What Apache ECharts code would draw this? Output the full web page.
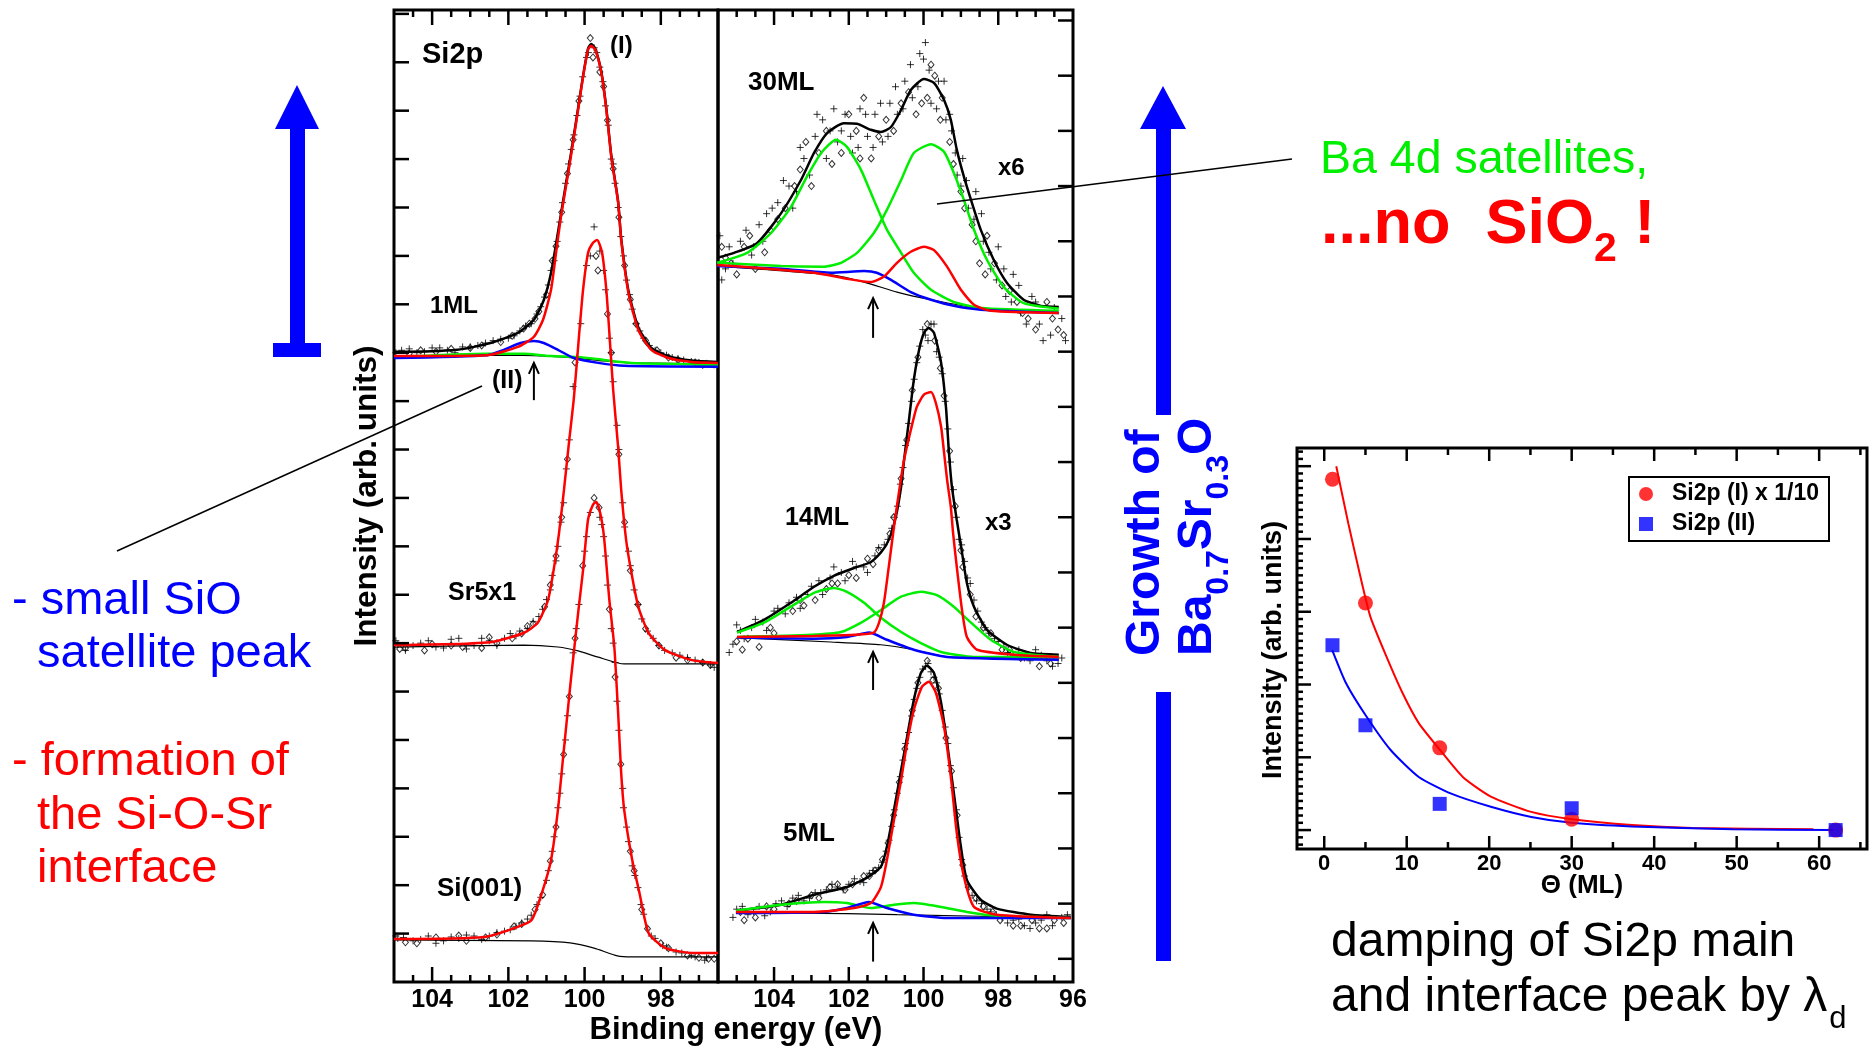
<!DOCTYPE html>
<html>
<head>
<meta charset="utf-8">
<script src="https://cdn.jsdelivr.net/npm/echarts@6/dist/echarts.min.js"></script>
<style>
html,body{margin:0;padding:0;background:#fff;}
#chart{width:1874px;height:1051px;}
</style>
</head>
<body>
<div id="chart"></div>
<script>
// ---------- tick labels ----------
const leftEnergyTicks = [98, 100, 102, 104];
const rightEnergyTicks = [96, 98, 100, 102, 104];
const coverageTicks = [0, 10, 20, 30, 40, 50, 60];
const coverageMinorTicks = [5, 15, 25, 35, 45, 55, 65];

// ---------- left panel: Si(001), Sr5x1, 1ML (binding energy eV, intensity arb.) ----------
const si001Fit = [[105.0,0.89],[104.87,0.89],[102.63,0.93],[101.75,1.14],[101.39,1.28],[101.12,1.84],[100.88,2.52],[100.70,3.55],[100.57,4.59],[100.36,6.24],[100.17,7.62],[100.04,8.51],[99.91,9.55],[99.78,9.86],[99.70,9.92],[99.59,9.69],[99.49,9.19],[99.35,7.89],[99.22,6.92],[99.12,5.56],[99.04,4.32],[98.96,3.55],[98.75,2.52],[98.56,1.84],[98.32,1.01],[97.88,0.70],[97.14,0.60],[96.5,0.60]];
const si001Bg = [[105.0,0.87],[101.39,0.85],[100.38,0.81],[99.75,0.70],[99.14,0.54],[98.75,0.52],[96.5,0.52]];
const si001Plus = [[104.9,0.9],[104.5,0.85],[104.1,0.95],[103.7,0.85],[103.3,0.9],[102.9,0.95],[102.5,0.95],[102.1,1.05],[101.8,1.15],[101.5,1.3],[101.25,1.6],[101.0,2.1],[100.85,2.7],[100.7,3.6],[100.6,4.3],[100.45,5.5],[100.3,6.8],[100.15,7.8],[100.0,8.9],[99.85,9.7],[99.6,9.6],[99.5,9.2],[99.4,8.2],[99.3,7.3],[99.2,6.6],[99.1,5.2],[99.0,4.0],[98.9,3.2],[98.75,2.4],[98.6,1.95],[98.45,1.4],[98.25,0.95],[97.95,0.75],[97.6,0.62],[97.2,0.55],[96.8,0.5],
  [104.95,0.95],[104.75,0.92],[104.3,0.88],[103.9,0.8],[103.5,0.93],[103.1,0.97],[102.7,0.88],[102.3,1.02],[101.95,1.08],[101.65,1.22],[101.4,1.38],[101.15,1.75],[100.95,2.3],[100.8,3.0],[100.65,3.9],[100.5,5.0],[100.22,7.3],[99.95,9.2],[99.55,9.45],[99.45,8.8],[99.25,7.0],[99.15,5.8],[98.98,3.6],[98.85,2.9],[98.68,2.2],[98.52,1.6],[98.15,0.9],[97.85,0.72],[97.45,0.6],[97.1,0.52],[96.85,0.45]];
const si001Diamond = [[104.7,0.82],[103.9,0.92],[103.1,0.85],[102.3,0.98],[101.65,1.2],[101.1,1.8],[100.75,3.2],[100.4,5.9],[100.05,8.6],[99.75,10.0],[99.35,7.7],[99.05,4.5],[98.7,2.3],[98.35,1.1],[97.8,0.7],[97.0,0.5],[96.6,0.48],
  [104.4,0.8],[103.3,0.96],[102.6,0.92],[101.85,1.15],[101.3,1.5],[100.9,2.5],[100.55,4.7],[100.25,7.1],[99.62,9.8],[99.2,6.3],[98.8,2.7],[98.5,1.5],[98.0,0.8],[97.3,0.55],[96.75,0.48]];

const sr5x1Fit = [[105.0,6.96],[104.92,6.96],[102.47,7.02],[101.60,7.21],[101.23,7.42],[100.96,7.89],[100.80,8.57],[100.67,9.28],[100.54,10.17],[100.41,11.14],[100.28,12.07],[100.14,13.41],[100.04,14.30],[99.91,15.06],[99.78,15.27],[99.67,15.33],[99.54,15.06],[99.43,14.30],[99.35,13.41],[99.25,12.23],[99.12,11.05],[99.04,10.17],[98.91,9.13],[98.77,8.45],[98.59,7.75],[98.32,7.21],[97.90,6.86],[97.19,6.65],[96.5,6.59]];
const sr5x1Bg = [[105.0,6.92],[101.6,6.96],[100.7,6.92],[100.17,6.84],[99.64,6.71],[98.96,6.57],[96.5,6.57]];
const sr5x1Plus = [[104.9,6.98],[104.5,6.95],[104.1,7.05],[103.7,6.9],[103.3,7.1],[102.9,6.95],[102.5,7.05],[102.1,7.1],[101.8,7.15],[101.5,7.3],[101.2,7.55],[101.0,7.9],[100.85,8.4],[100.7,9.0],[100.55,9.9],[100.4,11.2],[100.3,12.3],[100.1,13.6],[99.95,14.8],[99.75,15.6],[99.6,15.1],[99.45,14.3],[99.35,13.3],[99.25,12.4],[99.1,11.0],[99.0,9.9],[98.85,8.9],[98.7,8.1],[98.5,7.5],[98.2,7.1],[97.9,6.85],[97.5,6.75],[97.1,6.65],[96.7,6.55],
  [104.95,7.05],[104.7,6.85],[104.3,7.0],[103.9,6.92],[103.5,7.08],[103.1,6.88],[102.7,7.1],[102.3,6.95],[101.95,7.2],[101.7,7.25],[101.35,7.45],[101.1,7.7],[100.9,8.1],[100.75,8.7],[100.62,9.5],[100.48,10.6],[100.2,12.9],[99.85,15.0],[99.5,14.7],[99.3,13.0],[99.15,11.5],[98.95,9.4],[98.8,8.6],[98.6,7.8],[98.35,7.25],[98.05,6.95],[97.7,6.8],[97.3,6.7],[96.9,6.6],[96.6,6.5]];
const sr5x1Diamond = [[104.7,6.9],[104.2,6.85],[103.5,6.95],[102.7,6.9],[102.3,7.0],[101.65,7.2],[101.35,7.4],[100.9,8.2],[100.6,9.6],[100.25,12.8],[99.7,15.0],[99.65,14.7],[99.3,13.0],[98.95,9.5],[98.6,7.8],[98.05,6.95],[97.3,6.65],[96.9,6.6],
  [104.85,6.88],[104.0,6.98],[103.2,6.92],[102.5,7.12],[101.9,7.1],[101.5,7.35],[101.05,7.75],[100.75,8.8],[100.45,10.8],[99.4,13.8],[99.1,10.9],[98.8,8.5],[98.4,7.3],[97.6,6.7],[96.7,6.55]];

const ml1Total = [[105.0,13.02],[104.92,13.02],[103.34,13.06],[102.47,13.20],[101.75,13.41],[101.33,13.68],[101.07,14.09],[100.88,14.65],[100.70,15.48],[100.55,16.2],[100.36,17.1],[100.17,18.05],[100.04,18.72],[99.91,19.28],[99.83,19.38],[99.72,19.28],[99.56,18.8],[99.43,18.05],[99.30,17.08],[99.12,16.12],[99.04,15.36],[98.85,14.28],[98.59,13.52],[98.25,13.1],[97.80,12.93],[97.19,12.84],[96.5,12.81]];
const ml1Main = [[105.0,12.93],[104.92,12.93],[102.55,12.95],[101.75,13.12],[101.33,13.33],[101.09,13.68],[100.88,14.30],[100.75,15.06],[100.62,15.81],[100.49,16.43],[100.36,17.05],[100.17,18.02],[100.04,18.70],[99.91,19.26],[99.83,19.34],[99.72,19.26],[99.56,18.78],[99.43,18.02],[99.30,17.05],[99.12,16.10],[99.04,15.33],[98.85,14.24],[98.59,13.47],[98.25,13.06],[97.80,12.89],[97.19,12.81],[96.5,12.79]];
const ml1Oxide = [[105.0,12.89],[102.55,12.95],[102.12,13.06],[101.68,13.20],[101.33,13.24],[101.07,13.20],[100.70,13.06],[100.28,12.89],[99.64,12.79],[98.96,12.73],[96.5,12.71]];
const ml1Sat = [[105.0,12.91],[102.55,12.98],[101.60,12.98],[100.88,12.93],[100.17,12.91],[99.49,12.85],[98.77,12.79],[96.5,12.75]];
const ml1Bg = [[105.0,12.93],[102.2,12.95],[101.0,12.93],[100.2,12.89],[99.5,12.83],[98.8,12.79],[96.5,12.77]];
const ml1Plus = [[104.8,13.05],[104.4,13.0],[104.0,13.1],[103.6,13.05],[103.2,13.12],[102.8,13.15],[102.4,13.25],[102.0,13.3],[101.7,13.45],[101.4,13.6],[101.15,13.95],[100.95,14.4],[100.8,14.9],[100.65,15.7],[100.5,16.5],[100.35,17.2],[100.2,17.9],[100.05,18.7],[99.95,19.1],[99.75,19.3],[99.6,18.9],[99.45,18.1],[99.3,17.0],[99.2,16.5],[99.05,15.4],[98.9,14.5],[98.75,13.9],[98.55,13.45],[98.3,13.15],[98.0,13.0],[97.7,12.9],[97.4,12.85],[97.0,12.8],[96.6,12.75],
  [104.95,13.0],[104.6,13.08],[104.2,13.02],[103.8,13.1],[103.4,13.0],[103.0,13.12],[102.6,13.2],[102.2,13.28],[101.85,13.35],[101.55,13.55],[101.25,13.8],[101.05,14.15],[100.88,14.7],[100.72,15.3],[100.58,16.1],[100.42,16.9],[100.28,17.5],[100.12,18.3],[99.9,19.2],[99.68,19.2],[99.52,18.6],[99.38,17.7],[99.25,16.9],[99.12,16.0],[98.98,15.0],[98.82,14.2],[98.65,13.6],[98.45,13.3],[98.15,13.05],[97.85,12.95],[97.55,12.88],[97.2,12.82],[96.8,12.78]];
const ml1Diamond = [[104.6,12.98],[103.9,13.02],[103.0,13.1],[102.2,13.22],[101.6,13.5],[101.3,13.7],[101.0,14.2],[100.75,15.2],[100.45,16.7],[100.15,18.2],[99.85,19.5],[99.78,19.1],[99.5,18.5],[99.25,16.8],[98.95,14.8],[98.65,13.6],[98.1,13.05],[97.55,12.85],[96.9,12.75],
  [104.3,13.05],[103.5,13.08],[102.7,13.15],[101.9,13.35],[101.45,13.6],[101.2,13.85],[100.85,14.9],[100.6,15.9],[100.3,17.4],[99.6,18.8],[99.4,17.8],[99.1,15.8],[98.8,14.1],[98.4,13.25],[97.8,12.9],[97.1,12.8]];

// ---------- right panel: 5ML, 14ML (x3), 30ML (x6) ----------
const ml30Total = [[105.52,12.70],[105.07,12.79],[104.45,12.97],[103.81,13.51],[103.28,14.11],[102.93,14.60],[102.58,14.96],[102.13,15.14],[101.78,15.13],[101.41,15.02],[101.14,14.98],[100.87,15.07],[100.60,15.38],[100.34,15.74],[99.99,15.94],[99.72,15.87],[99.45,15.56],[99.27,15.20],[99.11,14.66],[98.92,14.17],[98.73,13.75],[98.47,13.21],[98.12,12.66],[97.77,12.25],[97.32,11.94],[96.86,11.83],[96.38,11.81]];
const ml30SatA = [[105.52,12.61],[104.72,12.79],[104.08,13.15],[103.55,13.62],[103.12,14.17],[102.74,14.60],[102.34,14.84],[102.05,14.71],[101.67,14.29],[101.33,13.75],[100.98,13.21],[100.60,12.79],[100.26,12.43],[99.80,12.12],[99.19,11.90],[98.47,11.79],[96.38,11.74]];
const ml30SatB = [[105.52,12.61],[103.81,12.55],[102.66,12.54],[102.21,12.61],[101.78,12.79],[101.33,13.15],[100.98,13.57],[100.60,14.11],[100.26,14.60],[99.80,14.76],[99.45,14.62],[99.19,14.24],[98.92,13.75],[98.65,13.21],[98.30,12.66],[97.85,12.17],[97.32,11.88],[96.38,11.78]];
const ml30Main = [[105.52,12.57],[102.93,12.43],[102.05,12.32],[101.41,12.26],[101.06,12.36],[100.71,12.61],[100.34,12.81],[99.99,12.90],[99.72,12.84],[99.37,12.54],[99.00,12.12],[98.65,11.85],[98.20,11.74],[96.38,11.70]];
const ml30Oxide = [[105.52,12.55],[103.81,12.50],[102.48,12.43],[101.59,12.46],[101.25,12.43],[100.87,12.30],[100.34,12.08],[99.80,11.94],[99.19,11.83],[98.47,11.76],[96.38,11.70]];
const ml30Bg = [[105.52,12.55],[102.48,12.39],[101.59,12.26],[100.71,12.08],[99.80,11.94],[98.47,11.78],[96.38,11.70]];
const ml30Plus = [[105.4,12.3],[105.2,12.9],[104.9,13.0],[104.6,12.75],[104.4,13.3],[104.2,13.5],[103.9,13.7],[103.6,14.0],[103.4,13.9],[103.2,14.5],[102.9,14.9],[102.7,15.2],[102.5,15.0],[102.3,14.8],[102.1,15.3],[101.9,14.6],[101.7,15.4],[101.5,14.9],[101.3,15.3],[101.1,14.8],[100.9,15.5],[100.7,15.3],[100.5,15.9],[100.3,15.6],[100.1,16.4],[99.95,16.6],[99.8,15.5],[99.6,15.9],[99.4,15.2],[99.25,15.0],[99.1,14.2],[98.95,14.5],[98.8,13.6],[98.6,13.9],[98.4,13.0],[98.2,12.5],[98.0,12.9],[97.8,12.0],[97.6,12.4],[97.4,11.7],[97.1,12.0],[96.9,11.5],[96.6,11.3],[96.3,11.6],
  [105.45,13.1],[105.3,12.5],[105.1,12.6],[104.75,13.2],[104.55,12.9],[104.3,13.0],[104.05,13.6],[103.75,14.1],[103.5,13.6],[103.3,14.7],[103.05,14.2],[102.85,15.3],[102.6,14.5],[102.4,15.4],[102.2,15.0],[101.95,14.9],[101.75,14.7],[101.55,15.3],[101.35,14.7],[101.15,15.5],[100.95,14.9],[100.75,15.8],[100.55,15.4],[100.35,16.2],[100.15,15.8],[100.0,16.3],[99.85,16.1],[99.65,15.4],[99.45,15.9],[99.3,15.3],[99.15,14.6],[99.0,14.0],[98.85,14.1],[98.65,13.4],[98.45,13.5],[98.25,12.8],[98.05,12.3],[97.85,12.5],[97.65,11.9],[97.45,12.2],[97.25,11.5],[97.0,11.9],[96.8,11.2],[96.5,11.8],[96.2,11.2]];
const ml30Diamond = [[105.3,12.7],[105.0,12.4],[104.8,12.9],[104.5,12.5],[104.1,13.2],[103.7,13.6],[103.3,14.3],[103.0,14.0],[102.6,15.0],[102.2,14.6],[101.8,15.0],[101.6,15.6],[101.4,14.5],[101.0,15.2],[100.6,15.5],[100.2,15.3],[99.9,15.6],[99.7,16.0],[99.5,15.6],[99.3,14.8],[99.0,13.9],[98.7,13.3],[98.5,12.6],[98.3,13.1],[97.9,12.2],[97.5,11.9],[97.2,11.6],[96.7,11.9],[96.4,11.4],
  [105.4,12.9],[105.15,12.6],[104.65,13.1],[104.25,12.8],[103.9,13.4],[103.45,14.0],[103.15,14.8],[102.8,14.6],[102.45,14.4],[102.0,15.3],[101.7,14.5],[101.2,14.9],[100.8,15.0],[100.4,15.7],[100.05,15.5],[99.8,16.2],[99.55,15.2],[99.2,14.4],[98.9,13.6],[98.6,13.0],[98.35,12.4],[98.1,12.6],[97.7,12.1],[97.35,11.7],[97.0,11.4],[96.55,11.6],[96.25,11.3]];

const ml14Total = [[104.99,5.92],[104.27,6.14],[103.55,6.45],[102.93,6.74],[102.40,6.94],[101.86,7.08],[101.41,7.19],[101.14,7.36],[100.93,7.59],[100.74,8.01],[100.60,8.55],[100.52,9.04],[100.39,9.76],[100.26,10.49],[100.12,11.03],[99.99,11.34],[99.86,11.43],[99.72,11.34],[99.53,10.80],[99.40,10.00],[99.32,9.17],[99.24,8.55],[99.11,7.95],[98.97,7.36],[98.84,6.81],[98.65,6.38],[98.30,5.96],[97.77,5.69],[97.13,5.54],[96.38,5.51]];
const ml14Main = [[104.99,5.83],[102.93,5.85],[101.86,5.87],[101.33,5.91],[101.19,6.09],[101.06,6.45],[100.93,7.10],[100.79,7.83],[100.66,8.44],[100.52,9.04],[100.34,9.58],[100.18,10.00],[99.99,10.22],[99.80,10.27],[99.67,10.07],[99.53,9.64],[99.45,9.17],[99.37,8.68],[99.27,8.19],[99.21,7.72],[99.11,7.10],[98.97,6.32],[98.84,5.83],[98.57,5.60],[97.58,5.51],[96.38,5.47]];
const ml14SatA = [[104.99,5.91],[104.27,6.09],[103.55,6.38],[102.93,6.63],[102.40,6.72],[102.05,6.65],[101.59,6.45],[101.14,6.18],[100.60,5.92],[100.07,5.72],[99.53,5.56],[98.65,5.47],[96.38,5.47]];
const ml14SatB = [[104.99,5.83],[103.01,5.87],[102.21,5.92],[101.67,6.09],[101.14,6.32],[100.60,6.56],[100.07,6.65],[99.64,6.59],[99.19,6.38],[98.73,6.09],[98.20,5.78],[97.58,5.56],[96.38,5.47]];
const ml14Oxide = [[104.99,5.82],[102.93,5.80],[102.05,5.83],[101.46,5.91],[100.98,5.78],[100.26,5.60],[99.37,5.47],[96.38,5.42]];
const ml14Bg = [[104.99,5.82],[102.48,5.74],[101.14,5.69],[100.26,5.60],[99.37,5.47],[96.38,5.43]];
const ml14Plus = [[105.1,5.7],[104.9,5.95],[104.6,6.0],[104.3,6.1],[104.0,6.3],[103.7,6.25],[103.4,6.55],[103.1,6.6],[102.8,6.85],[102.5,6.9],[102.2,7.0],[101.9,7.2],[101.6,7.1],[101.3,7.3],[101.05,7.5],[100.85,7.8],[100.7,8.2],[100.55,8.9],[100.4,9.7],[100.25,10.5],[100.1,11.1],[99.95,11.3],[99.8,11.5],[99.65,11.0],[99.5,10.6],[99.35,9.6],[99.2,8.5],[99.05,7.6],[98.9,7.2],[98.75,6.8],[98.55,6.3],[98.35,6.0],[98.1,5.8],[97.85,5.65],[97.6,5.5],[97.3,5.45],[97.0,5.6],[96.7,5.4],[96.4,5.35],
  [105.2,5.55],[105.0,6.05],[104.8,5.8],[104.5,6.15],[104.2,5.95],[103.9,6.35],[103.6,6.45],[103.3,6.35],[103.0,6.75],[102.7,6.6],[102.4,7.1],[102.1,6.85],[101.8,7.1],[101.5,7.0],[101.2,7.45],[100.95,7.6],[100.78,8.0],[100.62,8.6],[100.48,9.3],[100.32,10.1],[100.18,10.8],[100.02,11.4],[99.88,11.2],[99.72,11.5],[99.58,10.9],[99.42,10.1],[99.28,9.0],[99.12,8.0],[98.98,7.5],[98.82,6.9],[98.65,6.5],[98.45,6.1],[98.25,5.9],[98.0,5.75],[97.75,5.55],[97.45,5.6],[97.15,5.4],[96.85,5.5],[96.55,5.3],[96.3,5.45]];
const ml14Diamond = [[105.0,5.75],[104.7,5.8],[104.4,5.65],[104.0,5.9],[103.5,6.3],[103.2,6.4],[102.9,6.5],[102.6,6.7],[102.3,6.8],[101.8,6.9],[101.5,7.25],[101.2,7.4],[100.9,7.7],[100.6,8.7],[100.3,10.3],[99.9,11.5],[99.7,11.2],[99.45,10.2],[99.15,8.2],[98.95,7.1],[98.6,6.2],[98.2,5.9],[97.7,5.6],[97.2,5.5],[96.6,5.35],
  [104.85,5.6],[104.1,6.0],[103.3,6.5],[102.45,6.8],[102.0,6.95],[101.35,7.15],[100.8,8.0],[100.45,9.4],[100.15,10.9],[99.55,10.7],[99.3,9.2],[99.0,7.4],[98.75,6.6],[98.4,6.0],[97.9,5.6],[97.4,5.45],[96.9,5.3]];

const ml5Total = [[105.02,0.87],[103.81,0.98],[102.93,1.16],[102.05,1.30],[101.51,1.47],[101.14,1.67],[100.98,2.03],[100.79,2.70],[100.60,3.42],[100.44,4.02],[100.26,4.69],[100.07,5.18],[99.91,5.31],[99.72,5.18],[99.53,4.64],[99.37,3.91],[99.19,3.01],[99.00,2.03],[98.84,1.43],[98.47,1.07],[98.04,0.91],[97.13,0.80],[96.06,0.76]];
const ml5Main = [[105.02,0.85],[102.93,0.85],[101.86,0.92],[101.41,1.01],[101.14,1.30],[100.98,1.79],[100.79,2.52],[100.60,3.24],[100.44,3.91],[100.26,4.51],[100.04,4.93],[99.86,5.02],[99.67,4.82],[99.45,4.20],[99.27,3.30],[99.11,2.28],[98.92,1.49],[98.65,0.94],[98.04,0.80],[96.06,0.74]];
const ml5Sat = [[105.02,0.87],[103.81,0.98],[102.66,1.03],[102.05,1.01],[101.41,0.92],[100.79,0.98],[100.26,1.01],[99.53,0.94],[98.84,0.85],[98.04,0.78],[96.06,0.74]];
const ml5Oxide = [[105.02,0.83],[102.66,0.85],[102.05,0.92],[101.46,1.03],[100.98,0.92],[100.26,0.80],[99.37,0.74],[96.06,0.74]];
const ml5Bg = [[105.02,0.83],[102.05,0.82],[100.71,0.80],[96.06,0.74]];
const ml5Plus = [[105.0,0.9],[104.7,0.8],[104.4,0.95],[104.1,0.85],[103.8,1.05],[103.5,1.1],[103.2,1.05],[102.9,1.2],[102.6,1.25],[102.3,1.3],[102.0,1.35],[101.7,1.4],[101.45,1.55],[101.2,1.65],[101.0,1.95],[100.85,2.4],[100.7,3.0],[100.55,3.6],[100.4,4.1],[100.25,4.7],[100.1,5.1],[99.95,5.3],[99.8,5.2],[99.65,5.0],[99.5,4.5],[99.35,3.9],[99.2,3.1],[99.05,2.2],[98.9,1.5],[98.7,1.15],[98.45,1.0],[98.2,0.85],[97.9,0.75],[97.6,0.7],[97.3,0.6],[97.0,0.65],[96.7,0.8],[96.3,0.75],
  [105.1,0.75],[104.85,0.95],[104.55,0.85],[104.25,0.78],[103.95,1.0],[103.65,0.95],[103.35,1.15],[103.05,1.1],[102.75,1.2],[102.45,1.35],[102.15,1.25],[101.85,1.45],[101.6,1.38],[101.35,1.6],[101.1,1.75],[100.92,2.15],[100.78,2.7],[100.62,3.3],[100.48,3.9],[100.32,4.4],[100.18,4.9],[100.02,5.25],[99.88,5.35],[99.72,5.1],[99.58,4.8],[99.42,4.2],[99.28,3.5],[99.12,2.7],[98.98,1.8],[98.8,1.3],[98.58,1.05],[98.3,0.9],[98.05,0.8],[97.75,0.65],[97.45,0.72],[97.15,0.55],[96.85,0.7],[96.55,0.6],[96.15,0.8]];
const ml5Diamond = [[104.9,0.85],[104.5,0.75],[104.0,0.9],[103.6,1.0],[103.0,1.15],[102.5,1.3],[102.1,1.25],[101.6,1.5],[101.3,1.6],[100.95,2.1],[100.65,3.2],[100.3,4.5],[99.9,5.4],[99.75,5.05],[99.4,4.0],[99.1,2.6],[98.8,1.3],[98.4,0.95],[97.95,0.7],[97.4,0.6],[96.9,0.55],[96.5,0.7],
  [104.8,0.7],[104.2,0.95],[103.4,1.05],[102.8,1.1],[102.3,1.35],[101.9,1.35],[101.45,1.5],[101.1,1.8],[100.8,2.6],[100.5,3.8],[100.15,5.0],[99.6,4.9],[99.25,3.4],[98.95,1.7],[98.6,1.1],[98.15,0.85],[97.6,0.6],[97.1,0.7],[96.7,0.55],[96.25,0.65]];

// interface-peak markers (energy, arrow tail, arrow tip)
const leftMarkers = [[101.33, 12.02, 12.79]];
const rightMarkers = [[101.35, 11.25, 11.97], [101.35, 4.87, 5.56], [101.35, -0.05, 0.65]];

// ---------- damping vs coverage ----------
const coverage = [1, 5, 14, 30, 62];
const mainPeak = [4.82, 3.12, 1.13, 0.15, 0.0];
const interfacePeak = [2.54, 1.44, 0.36, 0.30, 0.0];
const mainFit = [[1.46,5.0],[2.93,4.21],[4.39,3.48],[5.6,2.93],[7.56,2.38],[9.51,1.88],[11.46,1.47],[13.9,1.12],[16.8,0.73],[20.2,0.46],[25.1,0.25],[30,0.15],[37.3,0.07],[44.6,0.03],[59.3,0.01]];
const interfaceFit = [[0.98,2.47],[2.68,2.01],[5.12,1.56],[8.05,1.10],[11.46,0.73],[15.4,0.50],[20.2,0.32],[25.1,0.18],[30,0.10],[37.3,0.05],[49.5,0.01],[61.7,0.0]];

// ---------- styling ----------
const FONT = '"Liberation Sans", Arial, Helvetica, sans-serif';
const RED = '#ff0000', BLUE = '#0000ff', GREEN = '#00ee00', BLACK = '#000000';
const PLUS = 'path://M3,0L3,6M0,3L6,3';

function fit(data, color, width, xi, yi, z) {
  return { type: 'line', data, xAxisIndex: xi, yAxisIndex: yi, symbol: 'none', showSymbol: false,
    smooth: 0.2, lineStyle: { color, width }, silent: true, z, animation: false };
}
function points(data, kind, xi, yi) {
  const plus = kind === 'plus';
  return { type: 'scatter', data, xAxisIndex: xi, yAxisIndex: yi,
    symbol: plus ? PLUS : 'diamond', symbolSize: plus ? 7 : [6, 7],
    itemStyle: plus ? { color: BLACK, borderColor: BLACK, borderWidth: 1 }
                    : { color: 'rgba(0,0,0,0)', borderColor: BLACK, borderWidth: 1 },
    silent: true, z: 1, animation: false };
}
function spectrum(xi, yi, parts) {
  const s = [];
  (parts.plus || []).forEach(d => s.push(points(d, 'plus', xi, yi)));
  (parts.diamond || []).forEach(d => s.push(points(d, 'diamond', xi, yi)));
  (parts.bg || []).forEach(d => s.push(fit(d, BLACK, 1.2, xi, yi, 2)));
  (parts.total || []).forEach(d => s.push(fit(d, BLACK, 2.5, xi, yi, 3)));
  (parts.green || []).forEach(d => s.push(fit(d, GREEN, 2.5, xi, yi, 4)));
  (parts.blue || []).forEach(d => s.push(fit(d, BLUE, 2.5, xi, yi, 5)));
  (parts.red || []).forEach(d => s.push(fit(d, RED, 2.5, xi, yi, 6)));
  return s;
}

function xAxisFor(gridIndex, min, max, inverse, labels, fontSize, margin) {
  return { type: 'value', gridIndex, min, max, inverse, position: 'bottom',
    axisLine: { show: false, onZero: false }, axisTick: { show: false }, splitLine: { show: false },
    axisLabel: { show: true, customValues: labels, margin, color: BLACK, fontSize, fontWeight: 'bold', fontFamily: FONT } };
}
function yAxisFor(gridIndex, min, max, position) {
  return { type: 'value', gridIndex, min, max, position,
    axisLine: { show: false, onZero: false }, axisTick: { show: false }, splitLine: { show: false }, axisLabel: { show: false } };
}

const panelLeft = { left: 394, top: 10, width: 324, height: 972 };
const panelRight = { left: 718, top: 10, width: 355, height: 972 };
const panelDamp = { left: 1297, top: 448, width: 570, height: 401 };
function gridOf(rect) {
  return Object.assign({ show: true, borderColor: BLACK, borderWidth: 3, backgroundColor: 'transparent', containLabel: false, outerBoundsMode: 'none' }, rect);
}

const series = [].concat(
  spectrum(0, 0, { plus: [si001Plus, sr5x1Plus, ml1Plus], diamond: [si001Diamond, sr5x1Diamond, ml1Diamond],
    bg: [si001Bg, sr5x1Bg, ml1Bg], total: [ml1Total], green: [ml1Sat], blue: [ml1Oxide], red: [si001Fit, sr5x1Fit, ml1Main] }),
  spectrum(1, 1, { plus: [ml5Plus, ml14Plus, ml30Plus], diamond: [ml5Diamond, ml14Diamond, ml30Diamond],
    bg: [ml5Bg, ml14Bg, ml30Bg], total: [ml5Total, ml14Total, ml30Total],
    green: [ml5Sat, ml14SatA, ml14SatB, ml30SatA, ml30SatB], blue: [ml5Oxide, ml14Oxide, ml30Oxide], red: [ml5Main, ml14Main, ml30Main] }),
  [
    fit(mainFit, RED, 2, 2, 2, 2),
    fit(interfaceFit, BLUE, 2, 2, 2, 2),
    { name: 'Si2p (I) x 1/10', type: 'scatter', xAxisIndex: 2, yAxisIndex: 2, symbol: 'circle', symbolSize: 15,
      data: coverage.map((c, i) => [c, mainPeak[i]]), itemStyle: { color: RED }, z: 3, silent: true, animation: false },
    { name: 'Si2p (II)', type: 'scatter', xAxisIndex: 2, yAxisIndex: 2, symbol: 'rect', symbolSize: 14,
      data: coverage.map((c, i) => [c, interfacePeak[i]]), itemStyle: { color: BLUE }, z: 4, silent: true, animation: false }
  ]
);

const option = {
  animation: false,
  backgroundColor: '#ffffff',
  grid: [gridOf(panelLeft), gridOf(panelRight), gridOf(panelDamp)],
  xAxis: [
    xAxisFor(0, 96.5, 105.0, true, leftEnergyTicks, 25, 6),
    xAxisFor(1, 96.0, 105.5, true, rightEnergyTicks, 25, 6),
    xAxisFor(2, -3.3, 65.8, false, coverageTicks, 22, 4)
  ],
  yAxis: [
    yAxisFor(0, 0, 20.08, 'left'),
    yAxisFor(1, -0.42, 17.19, 'right'),
    yAxisFor(2, -0.26, 5.25, 'left')
  ],
  legend: {
    left: 1629, top: 477, orient: 'vertical', selectedMode: false,
    data: [{ name: 'Si2p (I) x 1/10', icon: 'circle' }, { name: 'Si2p (II)', icon: 'rect' }],
    itemWidth: 14, itemHeight: 14, itemGap: 6, padding: [5, 10, 5, 10],
    borderColor: BLACK, borderWidth: 2, backgroundColor: '#fff',
    textStyle: { fontSize: 23, fontWeight: 'bold', fontFamily: FONT, color: BLACK, lineHeight: 24, padding: [0, 0, 0, 14] }
  },
  series
};

const chart = echarts.init(document.getElementById('chart'), null, { renderer: 'canvas' });
chart.setOption(option);

// ---------- tick marks, placed through each panel's own axes ----------
function range(from, to, step, skipEvery) {
  const out = [];
  const n = Math.round((to - from) / step);
  for (let k = 0; k <= n; k++) {
    const v = +(from + k * step).toFixed(4);
    if (skipEvery && Math.abs(v / skipEvery - Math.round(v / skipEvery)) < 1e-6) continue;
    out.push(v);
  }
  return out;
}
function tickBar(x, y, w, h) {
  return { type: 'rect', z: 120, shape: { x, y, width: w, height: h }, style: { fill: BLACK } };
}
function toPx(idx, x, y) {
  return chart.convertToPixel({ xAxisIndex: idx, yAxisIndex: idx }, [x, y]);
}
function xTickMarks(idx, rect, yInside, values, len, out) {
  const top = rect.top, bottom = rect.top + rect.height;
  values.forEach(v => {
    const px = toPx(idx, v, yInside)[0];
    out.push(tickBar(px - 1.25, bottom - len, 2.5, len));
    out.push(tickBar(px - 1.25, top, 2.5, len));
  });
}
function yTickMarks(idx, rect, xInside, values, len, side, out) {
  values.forEach(v => {
    const py = toPx(idx, xInside, v)[1];
    const x0 = side === 'left' ? rect.left : rect.left + rect.width - len;
    out.push(tickBar(x0, py - 1.25, len, 2.5));
  });
}

// ---------- annotations ----------
const mctx = document.createElement('canvas').getContext('2d');
function textWidth(t, size, bold) {
  mctx.font = (bold ? 'bold ' : '') + size + 'px ' + FONT;
  return mctx.measureText(t).width;
}
function tstyle(text, size, color, bold, align) {
  return { text, fontSize: size, fontFamily: FONT, fontWeight: bold ? 'bold' : 'normal', fill: color, align: align || 'left', verticalAlign: 'middle' };
}
// single text placed by its baseline
function txt(text, x, baseline, size, color, bold, align) {
  return { type: 'text', x, y: baseline - 0.35 * size, z: 100, style: tstyle(text, size, color, bold, align) };
}
// a run of text pieces (with subscript shifts), optionally rotated about its start point
function run(pieces, x, baseline, rotation, align) {
  const children = [];
  let total = 0;
  pieces.forEach(p => { total += (p.dx || 0) + textWidth(p.text, p.size, p.bold); });
  let cx = align === 'center' ? -total / 2 : 0;
  pieces.forEach(p => {
    cx += p.dx || 0;
    children.push({ type: 'text', x: cx, y: (p.dy || 0) - 0.35 * p.size, z: 100,
      style: tstyle(p.text, p.size, p.color, p.bold, 'left') });
    cx += textWidth(p.text, p.size, p.bold);
  });
  return { type: 'group', x, y: baseline, rotation: rotation || 0, children };
}
function markerArrow(idx, m) {
  const a = toPx(idx, m[0], m[1]);
  const b = toPx(idx, m[0], m[2]);
  return [
    { type: 'line', z: 100, shape: { x1: a[0], y1: a[1], x2: b[0], y2: b[1] }, style: { stroke: BLACK, lineWidth: 2 } },
    { type: 'polyline', z: 100, shape: { points: [[b[0] - 5, b[1] + 11], [b[0], b[1]], [b[0] + 5, b[1] + 11]] },
      style: { stroke: BLACK, lineWidth: 2, fill: null } }
  ];
}

const UP = Math.PI / 2;
const graphic = [
  // big blue arrows
  { type: 'polygon', z: 90, shape: { points: [[297,85],[319,129],[305,129],[305,343],[321,343],[321,357],[273,357],[273,343],[290,343],[290,129],[275,129]] }, style: { fill: BLUE } },
  { type: 'polygon', z: 90, shape: { points: [[1163,86],[1186,129],[1171,129],[1171,415],[1156,415],[1156,129],[1140,129]] }, style: { fill: BLUE } },
  { type: 'rect', z: 90, shape: { x: 1156, y: 692, width: 15, height: 269 }, style: { fill: BLUE } },
  // leader lines
  { type: 'line', z: 100, shape: { x1: 117, y1: 551, x2: 482, y2: 386 }, style: { stroke: BLACK, lineWidth: 1.5 } },
  { type: 'line', z: 100, shape: { x1: 937, y1: 204, x2: 1292, y2: 159 }, style: { stroke: BLACK, lineWidth: 1.5 } },
  // left-side remarks
  txt('- small SiO', 12, 617, 47, BLUE, false),
  txt('satellite peak', 37, 670, 47, BLUE, false),
  txt('- formation of', 12, 778, 47, RED, false),
  txt('the Si-O-Sr', 37, 832, 47, RED, false),
  txt('interface', 37, 885, 47, RED, false),
  // right-side remarks
  txt('Ba 4d satellites,', 1320, 176, 46.5, GREEN, false),
  run([{ text: '...no  SiO', size: 63, bold: true, color: RED },
       { text: '2', size: 41, bold: true, color: RED, dy: 16 },
       { text: ' !', size: 63, bold: true, color: RED }], 1321, 248, 0),
  txt('damping of Si2p main', 1331, 960, 48, BLACK, false),
  run([{ text: 'and interface peak by \u03bb', size: 48, color: BLACK },
       { text: 'd', size: 31, color: BLACK, dy: 15, dx: 2 }], 1331, 1015, 0),
  // growth label (vertical)
  run([{ text: 'Growth of', size: 48, bold: true, color: BLUE }], 1163, 656, UP),
  run([{ text: 'Ba', size: 48, bold: true, color: BLUE },
       { text: '0.7', size: 32, bold: true, color: BLUE, dy: 15 },
       { text: 'Sr', size: 48, bold: true, color: BLUE },
       { text: '0.3', size: 32, bold: true, color: BLUE, dy: 15 },
       { text: 'O', size: 48, bold: true, color: BLUE }], 1215, 656, UP),
  // spectra labels
  txt('Si2p', 422, 65, 29, BLACK, true),
  txt('(I)', 610, 55, 24, BLACK, true),
  txt('1ML', 430, 315, 24, BLACK, true),
  txt('(II)', 492, 390, 25, BLACK, true),
  txt('Sr5x1', 448, 602, 25, BLACK, true),
  txt('Si(001)', 437, 898, 26, BLACK, true),
  txt('30ML', 748, 92, 26, BLACK, true),
  txt('x6', 998, 177, 24, BLACK, true),
  txt('14ML', 785, 527, 25, BLACK, true),
  txt('x3', 985, 532, 24, BLACK, true),
  txt('5ML', 783, 843, 26, BLACK, true),
  // axis titles
  txt('Binding energy (eV)', 736, 1041, 31, BLACK, true, 'center'),
  run([{ text: 'Intensity (arb. units)', size: 31.5, bold: true, color: BLACK }], 378, 496, UP, 'center'),
  txt('\u0398 (ML)', 1582, 895, 26, BLACK, true, 'center'),
  run([{ text: 'Intensity (arb. units)', size: 27, bold: true, color: BLACK }], 1283, 650, UP, 'center')
];
leftMarkers.forEach(m => markerArrow(0, m).forEach(e => graphic.push(e)));
rightMarkers.forEach(m => markerArrow(1, m).forEach(e => graphic.push(e)));

// energy axes: majors every 2 eV, minors every 0.5 eV, top and bottom
xTickMarks(0, panelLeft, 10, leftEnergyTicks, 15, graphic);
xTickMarks(0, panelLeft, 10, range(97, 104.5, 0.5, 2), 7, graphic);
xTickMarks(1, panelRight, 8, rightEnergyTicks.filter(v => v > 96), 15, graphic);
xTickMarks(1, panelRight, 8, range(96.5, 105, 0.5, 2), 7, graphic);
// intensity ticks
yTickMarks(0, panelLeft, 100, range(1, 20, 1), 15, 'left', graphic);
yTickMarks(1, panelRight, 100, range(0, 17, 1), 15, 'right', graphic);
// damping plot ticks
xTickMarks(2, panelDamp, 2, coverageTicks, 13, graphic);
xTickMarks(2, panelDamp, 2, coverageMinorTicks, 7, graphic);
yTickMarks(2, panelDamp, 30, range(0, 5, 1), 14, 'left', graphic);
yTickMarks(2, panelDamp, 30, range(-0.2, 5.2, 0.1, 1), 6, 'left', graphic);

chart.setOption({ graphic });
</script>
</body>
</html>
